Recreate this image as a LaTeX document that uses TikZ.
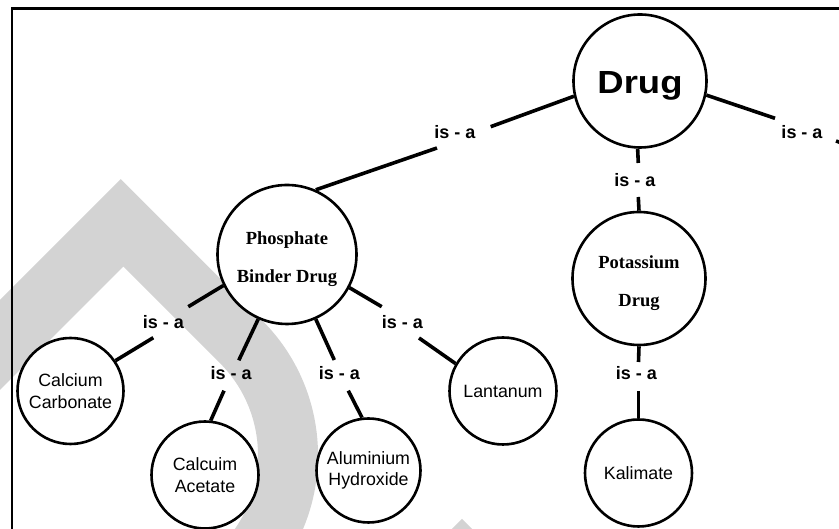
\documentclass[tikz,border=0pt]{standalone}
\usepackage{fontspec}
\newfontfamily\sansfam{Liberation Sans}
\newfontfamily\seriffam{Liberation Serif}
\definecolor{bandgray}{RGB}{211,211,211}
\tikzset{
  concept/.style={circle, draw, line width=2.6pt, fill=white, align=center, inner sep=0pt},
  smallconcept/.style={concept, font=\sansfam\fontsize{17.8}{21.5}\selectfont},
  bigconcept/.style={concept, font=\seriffam\bfseries\fontsize{18.5}{38}\selectfont},
  isa/.style={anchor=base, inner sep=0pt, font=\sansfam\bfseries\fontsize{18}{18}\selectfont},
  link/.style={line width=3.6pt},
  frame/.style={line width=2.4pt}
}
\begin{document}
\begin{tikzpicture}[x=1pt, y=1pt]
\useasboundingbox (0,0) rectangle (839,529);
\clip (0,0) rectangle (839,529);
\fill[white] (0,0) rectangle (839,529);

% light grey bent band in the background
\fill[bandgray] (-20,209) -- (120.85,349.85) -- (262.35,208.35)
  arc[start angle=45, end angle=-60, radius=190]
  -- (193,-38.6) arc[start angle=-60, end angle=45, radius=130]
  -- (123.42,262.42) -- (-20,119) -- cycle;
\fill[bandgray] (462,10) -- (447,-5) -- (477,-5) -- cycle;

% frame
\draw[frame] (12,-10) -- (12,520.5) -- (850,520.5);

% concepts
\node[concept, minimum size=133pt] (drug) at (640,448)
  {\sansfam\bfseries\fontsize{32}{32}\selectfont\rule{0pt}{31pt}\scalebox{1.14}[1]{Drug}};
\node[bigconcept, minimum size=139pt] (phos) at (287,274.5)
  {\rule{0pt}{22pt}Phosphate\\Binder Drug};
\node[bigconcept, minimum size=133pt] (pot) at (639,250.5)
  {\rule{0pt}{22pt}Potassium\\Drug};
\node[smallconcept, minimum size=106pt] (calcarb) at (70.5,138) {Calcium\\Carbonate};
\node[smallconcept, minimum size=107pt] (calace) at (205,54) {Calcuim\\Acetate};
\node[smallconcept, minimum size=104pt] (alum) at (368.5,58.5) {Aluminium\\Hydroxide};
\node[smallconcept, minimum size=107pt] (lant) at (503,138) {Lantanum};
\node[smallconcept, minimum size=107pt] (kali) at (638.5,56) {Kalimate};

% ends of the line pieces on each side of the linking phrases
\coordinate (g1a) at (490.7,402.3);
\coordinate (g1b) at (437,381);
\coordinate (g2a) at (638.3,366);
\coordinate (g2b) at (638.3,332);
\coordinate (g3a) at (775,410.7);
\coordinate (g3b) at (836,388);
\coordinate (g3c) at (900,366);
\coordinate (g4a) at (188.3,222.3);
\coordinate (g4b) at (153.3,191.3);
\coordinate (g5a) at (238.8,168.7);
\coordinate (g5b) at (224,138.3);
\coordinate (g6a) at (334.3,169);
\coordinate (g6b) at (348.3,138.3);
\coordinate (g7a) at (381.7,222.3);
\coordinate (g7b) at (419,191);
\coordinate (g8a) at (638.5,167);
\coordinate (g8b) at (638.5,138);

% connectors
\draw[link] (drug.193.2) -- (g1a);
\draw[link] (g1b) -- (phos.66.5);
\draw[link] (drug.268.5) -- (g2a);
\draw[link] (g2b) -- (pot.90.6);
\draw[link] (drug.348.4) -- (g3a);
\draw[link] (g3b) -- (g3c);
\draw[link] (phos.206.1) -- (g4a);
\draw[link] (g4b) -- (calcarb.34.5);
\draw[link] (phos.246.3) -- (g5a);
\draw[link] (g5b) -- (calace.84.4);
\draw[link] (phos.294.2) -- (g6a);
\draw[link] (g6b) -- (alum.97.2);
\draw[link] (phos.332.4) -- (g7a);
\draw[link] (g7b) -- (lant.150.6);
\draw[link] (pot.270.4) -- (g8a);
\draw[link] (g8b) -- (kali.90);

% linking phrases
\node[isa] (l1) at (455,390.7) {is - a};
\node[isa] (l2) at (635,342.5) {is - a};
\node[isa] (l3) at (802,390.7) {is - a};
\node[isa] (l4) at (163.3,200.7) {is - a};
\node[isa] (l5) at (231.2,149) {is - a};
\node[isa] (l6) at (339.3,149) {is - a};
\node[isa] (l7) at (402.5,200.7) {is - a};
\node[isa] (l8) at (636.3,149) {is - a};
\end{tikzpicture}
\end{document}
